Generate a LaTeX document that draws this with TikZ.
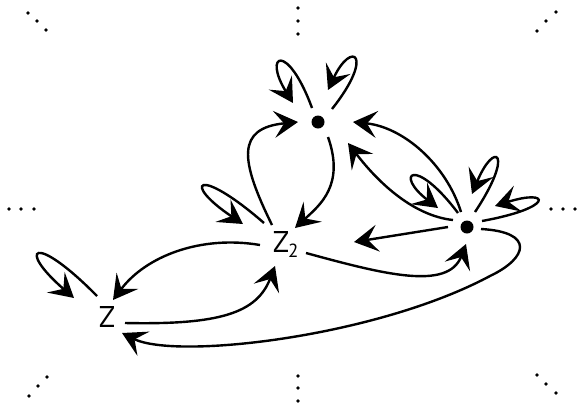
\documentclass[tikz,border=0pt]{standalone}
\usepackage{fontspec}
\setmainfont{PT Sans}
\usetikzlibrary{arrows.meta,calc}
\begin{document}
\begin{tikzpicture}[x=1pt,y=-1pt,
  edge/.style={line width=2.4pt,-{Stealth[length=24pt,width=27pt,inset=10pt]}},
  vtx/.style={circle,fill,inner sep=0pt,minimum size=13pt},
  lbl/.style={inner sep=0pt,font=\fontsize{30}{30}\selectfont}]
\useasboundingbox (0,0) rectangle (578,405);
% ellipsis dots
\foreach \p in {(28,13),(37,21),(46,30),(298,8),(298,21),(298,34),(556,12),(546,21),(537,31),
  (9,209),(21,209),(34,209),(551,209),(563,209),(575,209),
  (47,377),(38,386),(29,396),(298,376),(298,388),(298,401),(537,375),(546,384),(556,393)}
  \fill \p circle (1.8pt);
% vertices
\node[vtx] (t) at (318,122) {};
\node[vtx] (r) at (467,227) {};
\node[lbl] (z) at (107,317) {Z};
\node[lbl] (z2) at (281,242) {Z\rlap{\kern-1pt\smash{\raisebox{-5pt}{\fontsize{19}{19}\selectfont 2}}}};
% loops
\draw[edge] ($(t)+(-6,-14)$) .. controls (287.6,41.5) and (262.4,53.5) .. ($(t)+(-25,-19)$);
\draw[edge] ($(t)+(14,-13)$) .. controls (375.4,54.4) and (351.6,39.6) .. ($(t)+(10,-32)$);
\draw[edge] ($(r)+(-9,-14)$) .. controls (414,154.7) and (394,174.3) .. ($(r)+(-29,-19)$);
\draw[edge] ($(r)+(8,-15)$) .. controls (515.2,151.6) and (494.4,139.8) .. ($(r)+(5,-33)$);
\draw[edge] ($(r)+(15,-6)$) .. controls (555.4,207.7) and (550.6,188.3) .. ($(r)+(28,-21)$);
\draw[edge] ($(z)+(-10,-21)$) .. controls (33.1,231.1) and (16.5,248.3) .. ($(z)+(-33,-19)$);
\draw[edge] ($(z2)+(-17,-19)$) .. controls (196.1,164) and (181.5,183) .. ($(z2)+(-38,-18)$);
% connectors
\draw[edge] ($(z2)+(-9,-17)$) .. controls (240,160) and (236,128) .. ($(t)+(-20,0)$);
\draw[edge] ($(t)+(10,15)$) .. controls (345,185) and (320,205) .. ($(z2)+(14,-14)$);
\draw[edge] ($(r)+(-6,-15)$) .. controls (446,164) and (403,127) .. ($(t)+(35,0)$);
\draw[edge] ($(r)+(-14,-7)$) .. controls (415,216) and (380,185) .. ($(t)+(30,21)$);
\draw[edge] ($(r)+(-19,0)$) -- ($(z2)+(73,0)$);
\draw[edge] ($(z2)+(25,11)$) .. controls (383,274) and (448,291) .. ($(r)+(-1,17)$);
\draw[edge] ($(z2)+(-21,3)$) .. controls (201,235) and (146,256) .. ($(z)+(6,-17)$);
\draw[edge] ($(z)+(18,6)$) .. controls (220,325) and (257,313) .. ($(z2)+(-6,24)$);
\draw[edge] ($(r)+(14,2)$) .. controls (535,232) and (528,258) .. (490,276)
  .. controls (376,337) and (176,360) .. ($(z)+(15,16)$);
\end{tikzpicture}
\end{document}
